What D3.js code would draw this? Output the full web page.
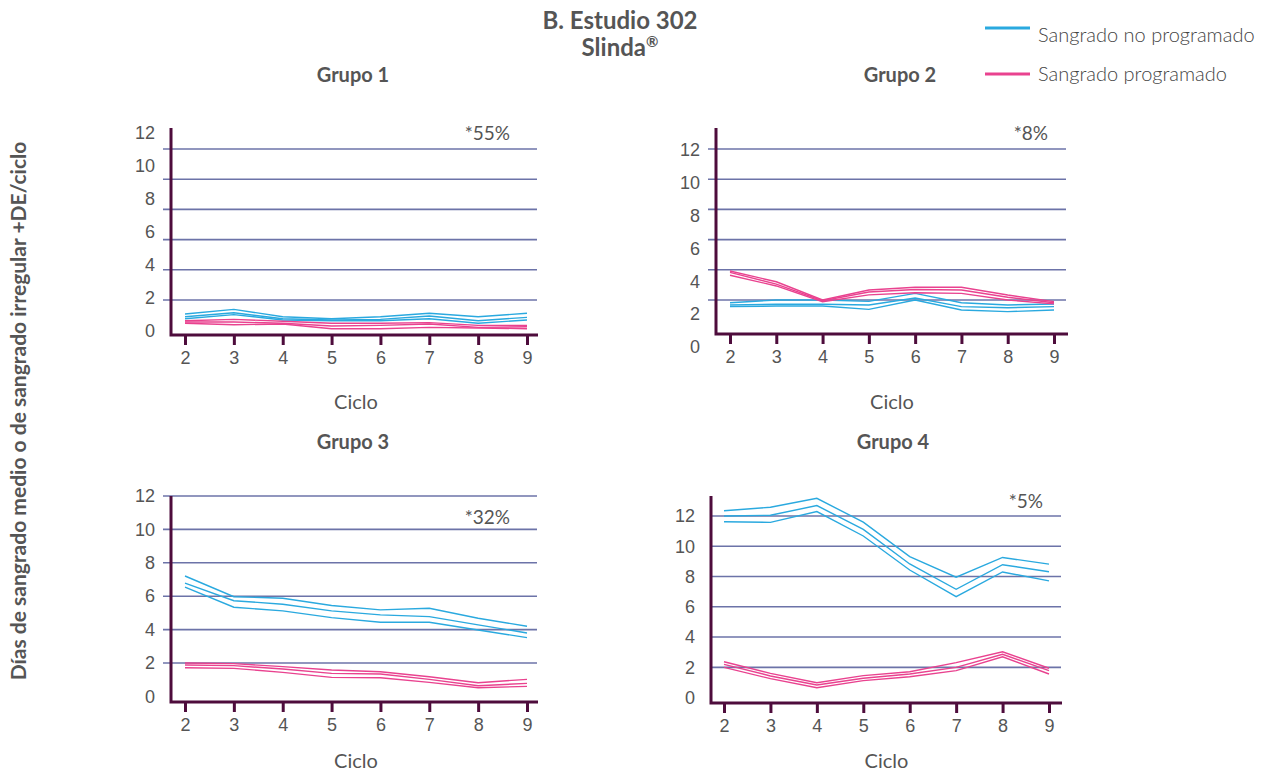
<!DOCTYPE html>
<html>
<head>
<meta charset="utf-8">
<script src="https://cdn.jsdelivr.net/npm/d3@7"></script>
<style>
	body { margin: 0; background: #fff; }
	svg { font-family: Lato, 'Open Sans', sans-serif; }
	.tick text { fill: #555; font-size: 18px; font-weight: 400; }
</style>
</head>
<body>
<div class="svg-container"></div>
<script>
// Data
var ciclos = [2, 3, 4, 5, 6, 7, 8, 9];
var yTicks = [0, 2, 4, 6, 8, 10, 12];
var gridTicks = [2, 4, 6, 8, 10, 12];
var grupos = ['Grupo 1', 'Grupo 2', 'Grupo 3', 'Grupo 4'];
var porcentajes = ['*55%', '*8%', '*32%', '*5%'];

// Sangrado no programado: media + DE / media / media - DE, one row per grupo
var noProgAlto = [
	[1.07, 1.38, 0.89, 0.76, 0.89, 1.12, 0.89, 1.12],
	[1.82, 2.00, 2.00, 1.91, 2.44, 1.82, 1.67, 1.74],
	[7.21, 5.97, 5.88, 5.44, 5.18, 5.28, 4.68, 4.20],
	[12.35, 12.58, 13.17, 11.59, 9.32, 7.96, 9.26, 8.82]
];
var noProgMedia = [
	[0.89, 1.16, 0.76, 0.68, 0.72, 0.94, 0.63, 0.85],
	[1.67, 1.72, 1.72, 1.67, 2.13, 1.56, 1.49, 1.56],
	[6.78, 5.73, 5.52, 5.12, 4.88, 4.78, 4.28, 3.80],
	[12.00, 12.05, 12.69, 11.12, 8.83, 7.16, 8.78, 8.32]
];
var noProgBajo = [
	[0.76, 1.03, 0.68, 0.63, 0.63, 0.76, 0.46, 0.68],
	[1.56, 1.60, 1.60, 1.38, 2.00, 1.34, 1.23, 1.34],
	[6.54, 5.34, 5.12, 4.72, 4.44, 4.44, 3.98, 3.52],
	[11.62, 11.58, 12.29, 10.68, 8.43, 6.67, 8.30, 7.71]
];

// Sangrado programado
var progAlto = [
	[0.63, 0.72, 0.59, 0.46, 0.46, 0.50, 0.32, 0.32],
	[3.92, 3.21, 2.00, 2.66, 2.84, 2.84, 2.33, 1.89],
	[2.00, 1.96, 1.78, 1.58, 1.48, 1.18, 0.82, 1.02],
	[2.37, 1.60, 0.98, 1.45, 1.71, 2.31, 3.03, 1.94]
];
var progMedia = [
	[0.54, 0.54, 0.46, 0.28, 0.32, 0.41, 0.19, 0.23],
	[3.83, 3.05, 1.95, 2.53, 2.70, 2.66, 2.18, 1.82],
	[1.88, 1.84, 1.64, 1.38, 1.34, 1.02, 0.64, 0.78],
	[2.20, 1.43, 0.83, 1.28, 1.56, 2.00, 2.86, 1.78]
];
var progBajo = [
	[0.46, 0.36, 0.41, 0.10, 0.10, 0.19, 0.15, 0.10],
	[3.64, 2.93, 1.89, 2.34, 2.48, 2.44, 2.00, 1.74],
	[1.72, 1.68, 1.44, 1.14, 1.12, 0.84, 0.52, 0.60],
	[2.00, 1.25, 0.65, 1.12, 1.38, 1.78, 2.70, 1.56]
];

var series = [
	{ name: 'Sangrado no programado', colour: '#2aa9df', lines: [noProgAlto, noProgMedia, noProgBajo] },
	{ name: 'Sangrado programado', colour: '#e9428f', lines: [progAlto, progMedia, progBajo] }
];

// Panel layout (pixels)
var panels = [
	{ axisX: 171, top: 128, bottom: 335, x0: 185, x1: 527, xEnd: 538, y0: 330.2, y12: 149, l0: 331, l12: 133, gridX0: 163, gridX1: 537, titleX: 353, titleY: 82, pctX: 510, pctY: 140, tickY: 345, cicloY: 409 },
	{ axisX: 716, top: 128, bottom: 334, x0: 730, x1: 1054, xEnd: 1068, y0: 330.2, y12: 149, l0: 347, l12: 150, gridX0: 708, gridX1: 1066, titleX: 900, titleY: 82, pctX: 1048, pctY: 140, tickY: 344, cicloY: 409 },
	{ axisX: 171, top: 496, bottom: 702, x0: 185, x1: 527, xEnd: 538, y0: 696.4, y12: 496, l0: 696.4, l12: 496, gridX0: 163, gridX1: 537, titleX: 353, titleY: 449, pctX: 510, pctY: 524, tickY: 712, cicloY: 768 },
	{ axisX: 711, top: 496, bottom: 703, x0: 724, x1: 1049, xEnd: 1062, y0: 697.6, y12: 516, l0: 697.6, l12: 516, gridX0: 711, gridX1: 1061, titleX: 893, titleY: 449, pctX: 1043, pctY: 508, tickY: 713, cicloY: 768 }
];

var width = 1263;
var height = 774;
var axisColour = '#4e0c3c';
var gridColour = '#6c73a8';
var textColour = '#555';

// Create SVG element
var svg = d3.select('.svg-container')
	.append('svg')
	.attr('width', width)
	.attr('height', height);

// Titles
svg.append('text')
	.attr('x', 620)
	.attr('y', 29)
	.attr('text-anchor', 'middle')
	.attr('font-size', 24)
	.attr('font-weight', 700)
	.attr('fill', textColour)
	.text('B. Estudio 302');

var sub = svg.append('text')
	.attr('x', 620)
	.attr('y', 56)
	.attr('text-anchor', 'middle')
	.attr('font-size', 24)
	.attr('font-weight', 700)
	.attr('fill', textColour);
sub.append('tspan').text('Slinda');
sub.append('tspan')
	.attr('font-size', 15)
	.attr('dy', -9)
	.text('®');

// Legend
var legend = svg.selectAll('g.legend')
	.data(series)
	.enter()
	.append('g')
	.attr('class', 'legend')
	.attr('transform', function(d, i) {
		return 'translate(985, ' + (i === 0 ? 28 : 74) + ')';
	});

legend.append('line')
	.attr('x1', 0)
	.attr('x2', 45)
	.attr('stroke', function(d) { return d.colour; })
	.attr('stroke-width', 3);

legend.append('text')
	.attr('x', 53)
	.attr('y', function(d, i) { return i === 0 ? 14 : 7; })
	.attr('font-size', 20)
	.attr('font-weight', 300)
	.attr('fill', '#444')
	.text(function(d) { return d.name; });

// Y axis title
svg.append('text')
	.attr('transform', 'translate(26, 411) rotate(-90)')
	.attr('text-anchor', 'middle')
	.attr('font-size', 21)
	.attr('font-weight', 700)
	.attr('fill', textColour)
	.text('Días de sangrado medio o de sangrado irregular +DE/ciclo');

// Draw each panel
panels.forEach(function(p, g) {
	var xScale = d3.scaleLinear()
		.domain([2, 9])
		.range([p.x0, p.x1]);

	var yScale = d3.scaleLinear()
		.domain([0, 12])
		.range([p.y0, p.y12]);

	var labelScale = d3.scaleLinear()
		.domain([0, 12])
		.range([p.l0, p.l12]);

	var panel = svg.append('g');

	// Grid lines
	panel.selectAll('line.grid')
		.data(gridTicks)
		.enter()
		.append('line')
		.attr('class', 'grid')
		.attr('x1', p.gridX0)
		.attr('x2', p.gridX1)
		.attr('y1', function(d) { return yScale(d); })
		.attr('y2', function(d) { return yScale(d); })
		.attr('stroke', gridColour)
		.attr('stroke-width', 1.6);

	// Y axis labels
	var yAxis = d3.axisLeft(labelScale)
		.tickValues(yTicks)
		.tickSize(0)
		.tickPadding(0);

	panel.append('g')
		.attr('transform', 'translate(' + (p.axisX - 16) + ', 0)')
		.call(yAxis)
		.call(function(a) { a.select('.domain').remove(); });

	// X axis ticks
	var xAxis = d3.axisBottom(xScale)
		.tickValues(ciclos)
		.tickFormat(d3.format('d'))
		.tickSize(p.tickY - p.bottom)
		.tickPadding(6);

	var xg = panel.append('g')
		.attr('transform', 'translate(0, ' + p.bottom + ')')
		.call(xAxis);
	xg.select('.domain').remove();
	xg.selectAll('.tick line')
		.attr('stroke', axisColour)
		.attr('stroke-width', 3);

	// Axis frame
	panel.append('path')
		.attr('d', 'M' + p.axisX + ',' + p.top + 'V' + p.bottom + 'H' + p.xEnd)
		.attr('fill', 'none')
		.attr('stroke', axisColour)
		.attr('stroke-width', 3);

	// Lines
	var line = d3.line()
		.x(function(d, i) { return xScale(ciclos[i]); })
		.y(function(d) { return yScale(d); });

	series.forEach(function(s) {
		s.lines.forEach(function(arr) {
			panel.append('path')
				.attr('d', line(arr[g]))
				.attr('fill', 'none')
				.attr('stroke', s.colour)
				.attr('stroke-width', 1.4);
		});
	});

	// Panel texts
	panel.append('text')
		.attr('x', p.titleX)
		.attr('y', p.titleY)
		.attr('text-anchor', 'middle')
		.attr('font-size', 20)
		.attr('font-weight', 700)
		.attr('fill', textColour)
		.text(grupos[g]);

	panel.append('text')
		.attr('x', p.pctX)
		.attr('y', p.pctY)
		.attr('text-anchor', 'end')
		.attr('font-size', 19)
		.attr('font-weight', 400)
		.attr('fill', textColour)
		.text(porcentajes[g]);

	panel.append('text')
		.attr('x', (p.x0 + p.x1) / 2)
		.attr('y', p.cicloY)
		.attr('text-anchor', 'middle')
		.attr('font-size', 20)
		.attr('font-weight', 400)
		.attr('fill', textColour)
		.text('Ciclo');
});
</script>
</body>
</html>
